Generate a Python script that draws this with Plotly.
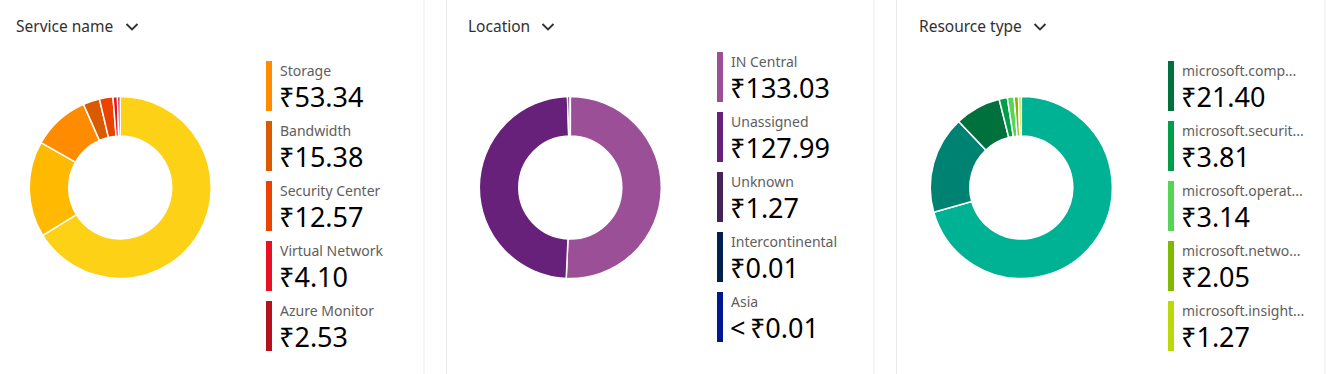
import plotly.graph_objects as go

# ---------------- data ----------------
titles = ["Service name", "Location", "Resource type"]

service_labels = ["(slice 1)", "(slice 2)", "Storage", "Bandwidth", "Security Center",
                  "Virtual Network", "Azure Monitor"]
service_values = [346.5, 89.0, 53.34, 15.38, 12.57, 4.10, 2.53]
service_colors = ["#fcd116", "#ffb900", "#ff8c00", "#da5a00", "#ea4300", "#e81123", "#b4111e"]
service_legend_start = 2  # legend list shows items from this index

location_labels = ["IN Central", "Unassigned", "Unknown", "Intercontinental", "Asia"]
location_values = [133.03, 127.99, 1.27, 0.01, 0.004]
location_colors = ["#9b4f96", "#68217a", "#442359", "#002050", "#00188f"]
location_legend_start = 0

resource_labels = ["(slice 1)", "(slice 2)", "microsoft.comp...", "microsoft.securit...",
                   "microsoft.operat...", "microsoft.netwo...", "microsoft.insight..."]
resource_values = [185.2, 45.4, 21.40, 3.81, 3.14, 2.05, 1.27]
resource_colors = ["#00b294", "#008272", "#00703c", "#009e49", "#55d455", "#7fba00", "#bad80a"]
resource_legend_start = 2

# ---------------- layout constants ----------------
W, H = 1335, 374
FONT = "Segoe UI, Noto Sans, Open Sans, sans-serif"
panels = [
    dict(title=titles[0], labels=service_labels, values=service_values, colors=service_colors,
         start=service_legend_start, left=0, cx=120.2, leg_x=266, leg_y=61, chev=126),
    dict(title=titles[1], labels=location_labels, values=location_values, colors=location_colors,
         start=location_legend_start, left=446.5, cx=570.3, leg_x=717, leg_y=52, chev=542),
    dict(title=titles[2], labels=resource_labels, values=resource_values, colors=resource_colors,
         start=resource_legend_start, left=896.5, cx=1021.3, leg_x=1168, leg_y=61, chev=1034),
]
CY, R = 187.5, 91.0
title_dx = [14, 19.5, 20.5]


def fmt(v):
    if v < 0.005:
        return "<\u2009₹0.01"
    return "₹{:.2f}".format(v)


fig = go.Figure()
shapes = []
annotations = []

for i, p in enumerate(panels):
    fig.add_trace(go.Pie(
        labels=p["labels"], values=p["values"],
        marker=dict(colors=p["colors"], line=dict(color="white", width=1.5)),
        hole=0.566, sort=False, direction="clockwise", rotation=0,
        textinfo="none", hoverinfo="label+value", showlegend=False,
        domain=dict(x=[(p["cx"] - R) / W, (p["cx"] + R) / W],
                    y=[(H - CY - R) / H, (H - CY + R) / H]),
    ))
    # title
    annotations.append(dict(x=p["left"] + title_dx[i], y=26, xref="x", yref="y",
                            text=p["title"], showarrow=False, xanchor="left", yanchor="middle",
                            font=dict(family=FONT, size=15.5, color="#323130")))
    # chevron
    c = p["chev"]
    shapes.append(dict(type="path", xref="x", yref="y",
                       path=f"M {c+0.5} 24 L {c+6} 29.5 L {c+11.5} 24",
                       line=dict(color="#323130", width=1.8)))
    # legend items
    for k, idx in enumerate(range(p["start"], len(p["labels"]))):
        y0 = p["leg_y"] + 60 * k
        shapes.append(dict(type="rect", xref="x", yref="y",
                           x0=p["leg_x"], x1=p["leg_x"] + 6, y0=y0, y1=y0 + 50,
                           fillcolor=p["colors"][idx], line=dict(width=0)))
        annotations.append(dict(x=p["leg_x"] + 12, y=y0 + 9, xref="x", yref="y",
                                text=p["labels"][idx], showarrow=False,
                                xanchor="left", yanchor="middle",
                                font=dict(family=FONT, size=14, color="#605e5c")))
        annotations.append(dict(x=p["leg_x"] + 11, y=y0 + 35, xref="x", yref="y",
                                text=fmt(p["values"][idx]), showarrow=False,
                                xanchor="left", yanchor="middle",
                                font=dict(family=FONT, size=27, color="#000000")))

# card separators
for xs in [424, 446.5, 874, 896.5, 1325]:
    shapes.append(dict(type="line", xref="x", yref="y", x0=xs, x1=xs, y0=0, y1=H,
                       line=dict(color="#edebe9", width=1)))

fig.update_layout(
    width=W, height=H, margin=dict(l=0, r=0, t=0, b=0),
    paper_bgcolor="white", plot_bgcolor="white",
    xaxis=dict(range=[0, W], visible=False, fixedrange=True),
    yaxis=dict(range=[H, 0], visible=False, fixedrange=True),
    shapes=shapes, annotations=annotations,
)

fig.write_html("out.html", config={"displayModeBar": False},
               post_script="document.body.style.margin='0px';document.body.style.overflow='hidden';")
